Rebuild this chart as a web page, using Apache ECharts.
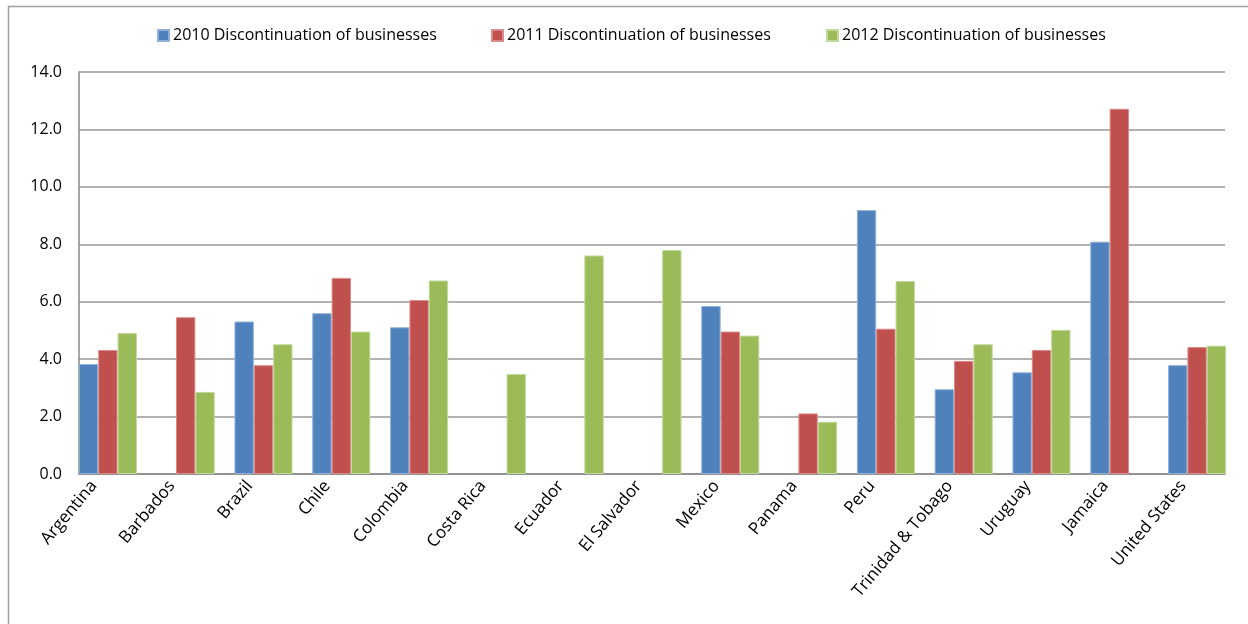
<!DOCTYPE html>
<html>
<head>
<meta charset="utf-8">
<script src="https://cdn.jsdelivr.net/npm/echarts@6/dist/echarts.min.js"></script>
<style>
  html, body { margin: 0; padding: 0; background: #fff; }
  #chart { width: 1248px; height: 624px; }
</style>
</head>
<body>
<div id="chart"></div>
<script>
// Countries on the category axis
const countries = [
  'Argentina', 'Barbados', 'Brazil', 'Chile', 'Colombia', 'Costa Rica',
  'Ecuador', 'El Salvador', 'Mexico', 'Panama', 'Peru',
  'Trinidad & Tobago', 'Uruguay', 'Jamaica', 'United States'
];

// Discontinuation of businesses (%), null where no survey data
const discontinuation2010 = [3.83, null, 5.31, 5.60, 5.11, null, null, null, 5.85, null, 9.19, 2.95, 3.54, 8.09, 3.79];
const discontinuation2011 = [4.32, 5.46, 3.79, 6.83, 6.06, null, null, null, 4.96, 2.11, 5.06, 3.94, 4.32, 12.72, 4.42];
const discontinuation2012 = [4.91, 2.86, 4.52, 4.96, 6.74, 3.48, 7.61, 7.80, 4.82, 1.82, 6.72, 4.52, 5.02, null, 4.47];

const seriesNames = [
  '2010 Discontinuation of businesses',
  '2011 Discontinuation of businesses',
  '2012 Discontinuation of businesses'
];

const yTicks = { min: 0, max: 14, interval: 2 };

const FONT = 'Open Sans';
const FONT_SIZE = 16;
const colors = ['#4F81BD', '#C0504D', '#9BBB59'];
const borders = ['#8fb0d8', '#d98c8a', '#c3d89b'];
const legendLeft = [157, 491, 826];

const chart = echarts.init(document.getElementById('chart'), null, { renderer: 'canvas' });

const values = [discontinuation2010, discontinuation2011, discontinuation2012];

chart.setOption({
  animation: false,
  backgroundColor: '#ffffff',
  textStyle: { fontFamily: FONT },
  legend: seriesNames.map((name, i) => ({
    data: [name],
    left: legendLeft[i],
    top: 27.5,
    padding: 0,
    itemWidth: 11,
    itemHeight: 11,
    itemGap: 4,
    icon: 'rect',
    textStyle: { fontFamily: FONT, fontSize: FONT_SIZE, color: '#000', padding: [0, 0, 0, -1] }
  })),
  grid: [
    // bars
    { left: 69, right: 12, top: 72, bottom: 150, containLabel: false },
    // plot frame: value gridlines and axis lines
    { left: 79, right: 23, top: 72, bottom: 150, containLabel: false },
    // country labels, set slightly left of each bar group
    { left: 55, right: 26, top: 72, bottom: 150, containLabel: false }
  ],
  xAxis: [
    {
      type: 'category',
      gridIndex: 0,
      data: countries,
      axisLine: { show: false },
      axisTick: { show: false },
      axisLabel: { show: false }
    },
    {
      type: 'value',
      gridIndex: 1,
      min: 0,
      max: 1,
      axisLine: { show: true, lineStyle: { color: '#888', width: 1.5 } },
      axisTick: { show: false },
      axisLabel: { show: false },
      splitLine: { show: false }
    },
    {
      type: 'category',
      gridIndex: 2,
      data: countries,
      axisLine: { show: false },
      axisTick: { show: false },
      axisLabel: {
        rotate: 50,
        margin: 9,
        interval: 0,
        fontFamily: FONT,
        fontSize: 17,
        color: '#000'
      }
    }
  ],
  yAxis: [
    {
      type: 'value',
      gridIndex: 0,
      min: yTicks.min,
      max: yTicks.max,
      interval: yTicks.interval,
      show: false
    },
    {
      type: 'value',
      gridIndex: 1,
      min: yTicks.min,
      max: yTicks.max,
      interval: yTicks.interval,
      axisLine: { show: true, lineStyle: { color: '#888', width: 1.5 } },
      axisTick: { show: false },
      axisLabel: {
        margin: 17,
        fontFamily: FONT,
        fontSize: FONT_SIZE,
        color: '#000',
        formatter: v => v.toFixed(1)
      },
      splitLine: { show: true, lineStyle: { color: '#999', width: 1.5 } }
    },
    {
      type: 'value',
      gridIndex: 2,
      min: yTicks.min,
      max: yTicks.max,
      show: false
    }
  ],
  series: seriesNames.map((name, i) => ({
    name,
    type: 'bar',
    xAxisIndex: 0,
    yAxisIndex: 0,
    data: values[i],
    barGap: '0%',
    barCategoryGap: '25.4%',
    itemStyle: { color: colors[i], borderColor: borders[i], borderWidth: 1 },
    z: 3
  })),
  graphic: [
    {
      type: 'polyline',
      shape: { points: [[8.5, 624], [8.5, 6.5], [1248, 6.5]] },
      style: { stroke: '#a0a0a0', lineWidth: 1.5, fill: null },
      silent: true
    }
  ]
});
</script>
</body>
</html>
